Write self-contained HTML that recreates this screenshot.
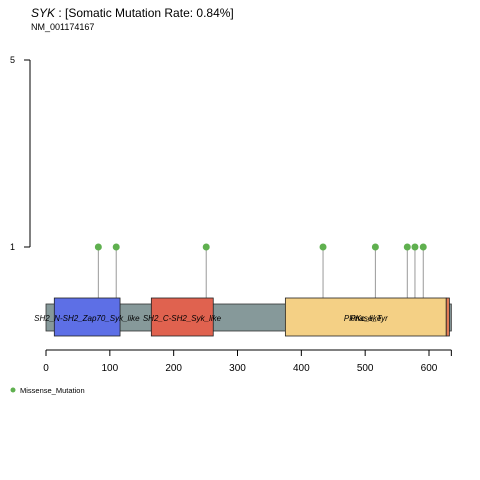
<!DOCTYPE html>
<html><head><meta charset="utf-8"><style>
body{margin:0;background:#fff}
svg{display:block;font-family:"Liberation Sans",sans-serif}
</style></head><body>
<svg id="chart" width="480" height="480" viewBox="0 0 480 480" xmlns="http://www.w3.org/2000/svg">
<rect width="480" height="480" fill="#fff"/>
<text x="31" y="17" font-size="12"><tspan font-style="italic">SYK</tspan> : [Somatic Mutation Rate: 0.84%]</text>
<text x="31" y="30" font-size="9">NM_001174167</text>
<g id="yaxis"></g>
<g id="xaxis"></g>
<g id="stems"></g>
<g id="protein"></g>
<g id="heads"></g>
<circle cx="13" cy="390" r="2.5" fill="#5FB04F"/>
<text x="20" y="393" font-size="7.5">Missense_Mutation</text>
</svg>
<script>
const proteinLength = 635;
const xTicks = [0,100,200,300,400,500,600];
const yTicks = [1,5];
const domainNames = ["SH2_N-SH2_Zap70_Syk_like","SH2_C-SH2_Syk_like","PKc_like","Pkinase_Tyr"];
const domainStart = [13,165,375,627];
const domainEnd = [116,262,627,632];
const domainColors = ["#5D6FE6","#E0624F","#F4D085","#E07A55"];
const labelCenter = [64,213,501,501];
const mutPos = [82,110,251,434,516,566,578,591];
const mutCount = [1,1,1,1,1,1,1,1];

const NS="http://www.w3.org/2000/svg";
const x = v => 46 + v*(383/600);
const y = v => 247 - (v-1)*(187/4);
function mk(tag, attrs, parent){const e=document.createElementNS(NS,tag);for(const k in attrs)e.setAttribute(k,attrs[k]);parent.appendChild(e);return e;}
const g=id=>document.getElementById(id);

let yl=mk('line',{x1:30,x2:30,y1:y(yTicks[yTicks.length-1]),y2:y(yTicks[0]),stroke:'#000'},g('yaxis'));


yTicks.forEach(t=>{
  let l=mk('line',{x1:24,x2:30,y1:y(t),y2:y(t),stroke:'#000'},g('yaxis'));
  
  
  let tx=mk('text',{x:15,y:y(t)+3,'font-size':9,'text-anchor':'end'},g('yaxis'));
  tx.textContent=t;
  
  
});
let xl=mk('line',{x1:x(0),x2:x(proteinLength),y1:350,y2:350,stroke:'#000'},g('xaxis'));


xTicks.concat([proteinLength]).forEach(t=>{
  let l=mk('line',{x1:x(t),x2:x(t),y1:350,y2:356,stroke:'#000'},g('xaxis'));
  
  
});
xTicks.forEach(t=>{
  let tx=mk('text',{x:x(t),y:371,'font-size':10,'text-anchor':'middle'},g('xaxis'));
  tx.textContent=t;
  
  
});
mutPos.forEach((p,i)=>{
  let l=mk('line',{x1:x(p),x2:x(p),y1:y(mutCount[i]),y2:299,stroke:'#999','stroke-width':1},g('stems'));
  
  
});
let bb=mk('rect',{x:x(0),y:304,width:x(proteinLength)-x(0),height:27,fill:'#86999A',stroke:'#333','stroke-width':0.8},g('protein'));


domainNames.forEach((n,i)=>{
  let r=mk('rect',{x:x(domainStart[i]),y:298,width:x(domainEnd[i])-x(domainStart[i]),height:38,fill:domainColors[i],stroke:'#222','stroke-width':0.8},g('protein'));
  
  
});
domainNames.forEach((n,i)=>{
  let tx=mk('text',{x:x(labelCenter[i]),y:321,'font-size':8,'font-style':'italic','text-anchor':'middle'},g('protein'));
  tx.textContent=n;
  
  
});
mutPos.forEach((p,i)=>{
  let c=mk('circle',{cx:x(p),cy:y(mutCount[i]),r:3.5,fill:'#5FB04F'},g('heads'));
  
  
});
</script>
</body></html>
